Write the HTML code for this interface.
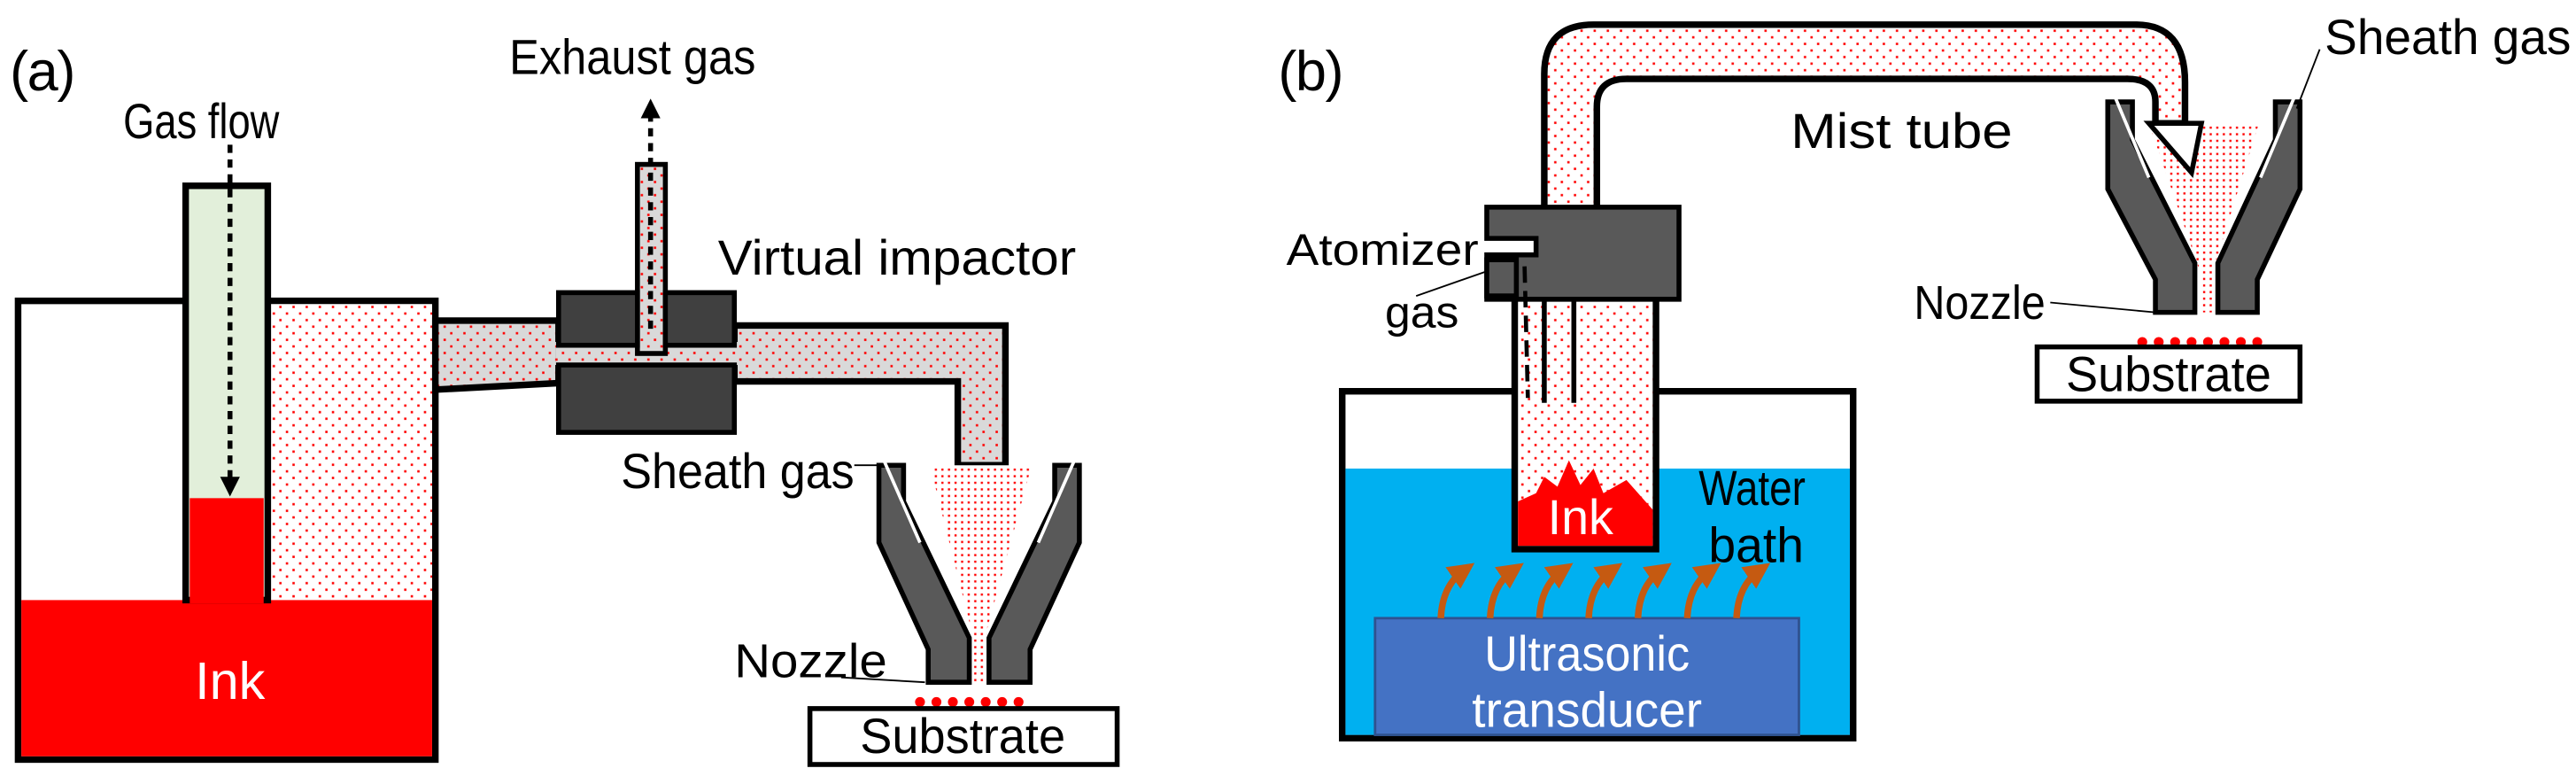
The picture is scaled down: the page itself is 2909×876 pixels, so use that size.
<!DOCTYPE html>
<html><head><meta charset="utf-8"><style>html,body{margin:0;padding:0;background:#fff;overflow:hidden}svg{display:block}</style></head>
<body>
<svg width="2909" height="876" viewBox="0 0 1568 472" preserveAspectRatio="none" xmlns="http://www.w3.org/2000/svg" font-family="Liberation Sans, sans-serif">
<defs>
<pattern id="dw" width="8" height="8" patternUnits="userSpaceOnUse"><rect width="8" height="8" fill="#fff"/><rect x="2" y="2" width="1.4" height="1.4" fill="#f00"/><rect x="6" y="6" width="1.4" height="1.4" fill="#f00"/></pattern>
<pattern id="dg" width="8" height="8" patternUnits="userSpaceOnUse"><rect width="8" height="8" fill="#d9d9d9"/><rect x="2" y="2" width="1.4" height="1.4" fill="#f00"/><rect x="6" y="6" width="1.4" height="1.4" fill="#f00"/></pattern>
<pattern id="dd" width="4" height="4" patternUnits="userSpaceOnUse"><rect width="4" height="4" fill="#fff"/><rect x="1" y="1" width="1.3" height="1.3" fill="#f00"/></pattern>
<marker id="ah" viewBox="0 0 10 10" refX="5" refY="5" markerWidth="4" markerHeight="4" orient="auto"><path d="M0,0L10,5L0,10z" fill="#000"/></marker>
<marker id="oa" viewBox="0 0 10 10" refX="5" refY="5" markerWidth="4" markerHeight="4" orient="auto"><path d="M0,0L10,5L0,10z" fill="#c55a11"/></marker>
</defs>

<!-- (a) -->
<text x="6" y="55" font-size="34" textLength="40">(a)</text>
<rect x="11" y="183" width="254" height="279" fill="#fff" stroke="#000" stroke-width="4"/>
<rect x="163" y="185" width="100" height="180" fill="url(#dw)"/>
<rect x="13" y="365" width="250" height="95" fill="#f00"/>
<rect x="113" y="113" width="50" height="252" fill="#e2efda" stroke="#000" stroke-width="4"/>
<rect x="115.5" y="303" width="45" height="64" fill="#f00"/>
<text x="140" y="425" font-size="32" fill="#fff" text-anchor="middle">Ink</text>
<text x="75" y="84" font-size="30" textLength="95" lengthAdjust="spacingAndGlyphs">Gas flow</text>
<line x1="140" y1="88" x2="140" y2="296" stroke="#000" stroke-width="3" stroke-dasharray="5,4" marker-end="url(#ah)"/>

<!-- pipe -->
<path d="M265,195 L340,195 L340,233 L265,237 Z" fill="url(#dg)" stroke="#000" stroke-width="4"/>
<path d="M447,198 L612,198 L612,283 L583,283 L583,232 L447,232 Z" fill="url(#dg)" stroke="#000" stroke-width="4"/>
<rect x="338" y="208" width="112" height="14" fill="url(#dg)"/>
<rect x="388" y="100" width="17" height="115" fill="url(#dg)" stroke="#000" stroke-width="3"/>
<rect x="340" y="178" width="48" height="32" fill="#404040" stroke="#000" stroke-width="3"/>
<rect x="405" y="178" width="42" height="32" fill="#404040" stroke="#000" stroke-width="3"/>
<rect x="340" y="222" width="107" height="41" fill="#404040" stroke="#000" stroke-width="3"/>
<line x1="396" y1="200" x2="396" y2="66" stroke="#000" stroke-width="3" stroke-dasharray="5,4" marker-end="url(#ah)"/>
<text x="310" y="45" font-size="30" textLength="150" lengthAdjust="spacingAndGlyphs">Exhaust gas</text>
<text x="437" y="167" font-size="30" textLength="218" lengthAdjust="spacingAndGlyphs">Virtual impactor</text>
<text x="378" y="297" font-size="30" textLength="142" lengthAdjust="spacingAndGlyphs">Sheath gas</text>
<line x1="520" y1="283" x2="537" y2="283" stroke="#000" stroke-width="1"/>

<!-- nozzle a -->
<path d="M566,283 L628,283 L601,382 L601,415 L591,415 L591,382 Z" fill="url(#dd)"/>
<path d="M535,283 L550,283 L550,305 L590,388 L590,415 L565,415 L565,395 L535,330 Z" fill="#595959" stroke="#000" stroke-width="3"/>
<path d="M657,283 L642,283 L642,305 L602,388 L602,415 L627,415 L627,395 L657,330 Z" fill="#595959" stroke="#000" stroke-width="3"/>
<line x1="538" y1="280" x2="560" y2="330" stroke="#fff" stroke-width="2"/>
<line x1="654" y1="280" x2="632" y2="330" stroke="#fff" stroke-width="2"/>
<text x="447" y="412" font-size="29" textLength="93" lengthAdjust="spacingAndGlyphs">Nozzle</text>
<line x1="512" y1="412" x2="563" y2="415" stroke="#000" stroke-width="1"/>
<g fill="#f00"><circle cx="560" cy="427" r="3"/><circle cx="570" cy="427" r="3"/><circle cx="580" cy="427" r="3"/><circle cx="590" cy="427" r="3"/><circle cx="600" cy="427" r="3"/><circle cx="610" cy="427" r="3"/><circle cx="620" cy="427" r="3"/></g>
<rect x="493" y="431" width="187" height="34" fill="#fff" stroke="#000" stroke-width="3"/>
<text x="586" y="458" font-size="30" text-anchor="middle" textLength="125" lengthAdjust="spacingAndGlyphs">Substrate</text>

<!-- (b) -->
<text x="778" y="55" font-size="34" textLength="40">(b)</text>
<rect x="817" y="238" width="311" height="211" fill="#fff" stroke="#000" stroke-width="4"/>
<rect x="819" y="285" width="307" height="162" fill="#00b0f0"/>
<rect x="837" y="376" width="258" height="71" fill="#4472c4" stroke="#2f528f" stroke-width="1.5"/>
<text x="966" y="408" font-size="30" fill="#fff" text-anchor="middle" textLength="125" lengthAdjust="spacingAndGlyphs">Ultrasonic</text>
<text x="966" y="442" font-size="30" fill="#fff" text-anchor="middle" textLength="140" lengthAdjust="spacingAndGlyphs">transducer</text>
<text x="1034" y="307" font-size="30" textLength="65" lengthAdjust="spacingAndGlyphs">Water</text>
<text x="1040" y="342" font-size="30" textLength="58" lengthAdjust="spacingAndGlyphs">bath</text>
<rect x="922" y="180" width="86" height="154" fill="url(#dw)" stroke="#000" stroke-width="4"/>
<path d="M924,305 L935,300 L940,290 L948,296 L955,280 L962,295 L970,285 L976,300 L990,292 L1006,310 L1006,332 L924,332 Z" fill="#f00"/>
<text x="962" y="325" font-size="30" fill="#fff" text-anchor="middle">Ink</text>
<g stroke="#c55a11" stroke-width="4" fill="none">
<path d="M877,376 Q878,356 891,347" marker-end="url(#oa)"/><path d="M907,376 Q908,356 921,347" marker-end="url(#oa)"/><path d="M937,376 Q938,356 951,347" marker-end="url(#oa)"/><path d="M967,376 Q968,356 981,347" marker-end="url(#oa)"/><path d="M997,376 Q998,356 1011,347" marker-end="url(#oa)"/><path d="M1027,376 Q1028,356 1041,347" marker-end="url(#oa)"/><path d="M1057,376 Q1058,356 1071,347" marker-end="url(#oa)"/>
</g>
<!-- mist tube -->
<path d="M940,128 L940,45 Q940,15 970,15 L1300,15 Q1330,15 1330,50 L1330,75 L1312,75 L1312,62 Q1312,48 1295,48 L990,48 Q972,48 972,65 L972,128 Z" fill="url(#dw)" stroke="#000" stroke-width="4"/>
<text x="1090" y="90" font-size="30" textLength="135" lengthAdjust="spacingAndGlyphs">Mist tube</text>
<!-- atomizer -->
<path d="M905,126 L1022,126 L1022,182 L905,182 L905,155 L935,155 L935,145 L905,145 Z" fill="#595959" stroke="#000" stroke-width="3"/>
<rect x="905" y="158" width="18" height="22" fill="#595959" stroke="#000" stroke-width="3"/>
<line x1="940" y1="182" x2="940" y2="245" stroke="#000" stroke-width="3"/>
<line x1="958" y1="182" x2="958" y2="245" stroke="#000" stroke-width="3"/>
<line x1="928" y1="162" x2="930" y2="242" stroke="#000" stroke-width="2.5" stroke-dasharray="10,5"/>
<text x="783" y="161" font-size="27" textLength="117" lengthAdjust="spacingAndGlyphs">Atomizer</text>
<text x="843" y="199" font-size="27" textLength="45" lengthAdjust="spacingAndGlyphs">gas</text>
<line x1="862" y1="180" x2="905" y2="165" stroke="#000" stroke-width="1"/>
<!-- nozzle b -->
<path d="M1308,75 L1375,75 L1347,165 L1347,190 L1339,190 L1339,165 Z" fill="url(#dd)"/>
<path d="M1308,75 L1340,75 L1334,105 Z" fill="#fff" stroke="#000" stroke-width="3"/>
<path d="M1283,62 L1298,62 L1298,85 L1336,160 L1336,190 L1312,190 L1312,170 L1283,115 Z" fill="#595959" stroke="#000" stroke-width="3"/>
<path d="M1400,62 L1385,62 L1385,85 L1350,160 L1350,190 L1374,190 L1374,170 L1400,115 Z" fill="#595959" stroke="#000" stroke-width="3"/>
<line x1="1287" y1="58" x2="1308" y2="108" stroke="#fff" stroke-width="2"/>
<line x1="1397" y1="58" x2="1376" y2="108" stroke="#fff" stroke-width="2"/>
<text x="1415" y="33" font-size="30" textLength="150" lengthAdjust="spacingAndGlyphs">Sheath gas</text>
<line x1="1412" y1="30" x2="1398" y2="66" stroke="#000" stroke-width="1"/>
<text x="1165" y="194" font-size="29" textLength="80" lengthAdjust="spacingAndGlyphs">Nozzle</text>
<line x1="1248" y1="184" x2="1312" y2="190" stroke="#000" stroke-width="1"/>
<g fill="#f00"><circle cx="1304" cy="208" r="3"/><circle cx="1314" cy="208" r="3"/><circle cx="1324" cy="208" r="3"/><circle cx="1334" cy="208" r="3"/><circle cx="1344" cy="208" r="3"/><circle cx="1354" cy="208" r="3"/><circle cx="1364" cy="208" r="3"/><circle cx="1374" cy="208" r="3"/></g>
<rect x="1240" y="211" width="160" height="33" fill="#fff" stroke="#000" stroke-width="3"/>
<text x="1320" y="238" font-size="30" text-anchor="middle" textLength="125" lengthAdjust="spacingAndGlyphs">Substrate</text>
</svg>
</body></html>
